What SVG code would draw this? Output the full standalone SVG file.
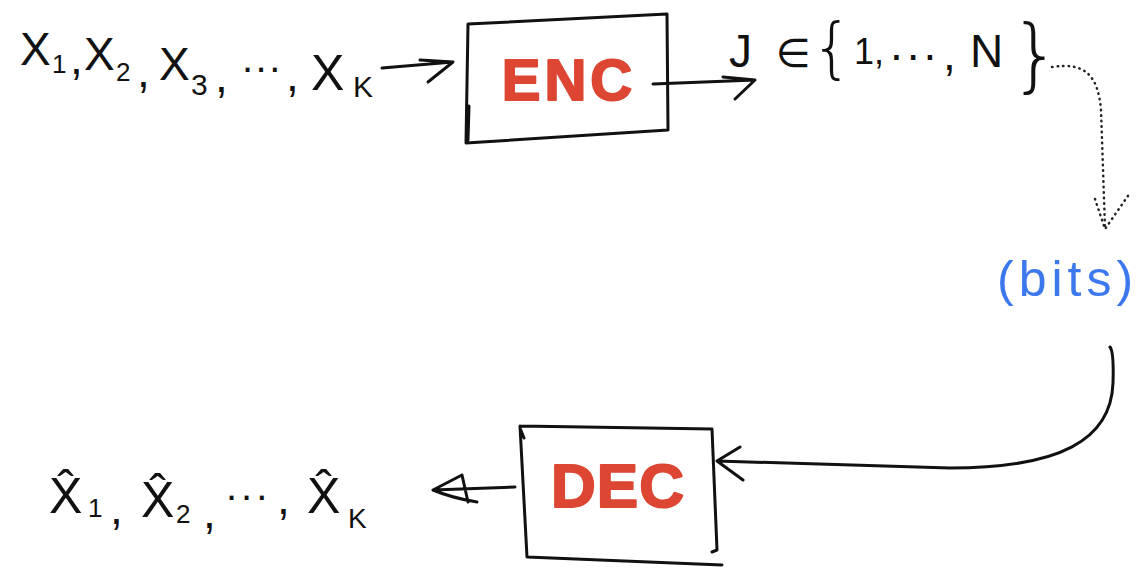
<svg xmlns="http://www.w3.org/2000/svg" width="1143" height="568" viewBox="0 0 1143 568">
<style>
.ink{fill:none;stroke:#111;stroke-width:3;stroke-linecap:round;stroke-linejoin:round}
.dot{fill:none;stroke:#222;stroke-width:2.5;stroke-linecap:round;stroke-dasharray:0.5 5}
.t{font-family:"Liberation Sans","DejaVu Sans",sans-serif;fill:#111}
.br{font-family:"DejaVu Sans","Liberation Sans",sans-serif;font-weight:200;fill:#111}
.red{font-family:"Liberation Sans",sans-serif;font-weight:bold;fill:#dc4632;stroke:#dc4632;stroke-width:2;stroke-linejoin:round}
.blue{font-family:"Liberation Sans",sans-serif;fill:#3b78ee}
</style>
<rect width="1143" height="568" fill="#fff"/>
<g id="input" class="t">
<text x="20" y="65" font-size="46">X</text><text x="52" y="73" font-size="26">1</text><text x="70" y="74" font-size="46">,</text>
<text x="84" y="70" font-size="46">X</text><text x="116" y="81" font-size="26">2</text><text x="137" y="87" font-size="46">,</text>
<text x="159" y="80" font-size="46">X</text><text x="191" y="95" font-size="30">3</text><text x="215" y="92" font-size="46">,</text>
<text x="242" y="72" font-size="40" letter-spacing="2.5">...</text><text x="286" y="91" font-size="46">,</text>
<text x="311" y="90" font-size="50">X</text><text x="353" y="97" font-size="30">K</text>
</g>
<g id="enc">
<path class="ink" d="M468,24 L667,14 L668,130 L466,143 Z M469,106 L468,140"/>
<text class="red" x="569" y="100" font-size="58" text-anchor="middle" letter-spacing="4">ENC</text>
</g>
<g id="index" class="t">
<text x="729" y="67" font-size="46">J</text>
<text x="776" y="67" font-size="40">∈</text>
<text class="br" x="811" y="70" font-size="66">{</text>
<text x="854" y="64" font-size="36">1,</text>
<text x="890" y="60" font-size="46" letter-spacing="4">...</text>
<text x="943" y="70" font-size="46">,</text>
<text x="970" y="67" font-size="46">N</text>
<text class="br" x="1010" y="82" font-size="80">}</text>
</g>
<g id="bits">
<text class="blue" x="997" y="296" font-size="50" letter-spacing="5">(bits)</text>
</g>
<g id="dec">
<path class="ink" d="M520,426 L712,429 L717,550 L712,552 M527,557 L722,565 M520,426 L527,557 M520,428 L524,438"/>
<text class="red" x="618" y="507" font-size="62" text-anchor="middle" letter-spacing="1">DEC</text>
</g>
<g id="output" class="t">
<text x="49" y="513" font-size="50">X&#x302;</text><text x="88" y="517" font-size="26">1</text><text x="110" y="524" font-size="46">,</text>
<text x="141" y="517" font-size="50">X&#x302;</text><text x="176" y="523" font-size="26">2</text><text x="203" y="528" font-size="46">,</text>
<text x="226" y="500" font-size="40" letter-spacing="4">...</text><text x="277" y="514" font-size="46">,</text>
<text x="307" y="513" font-size="50">X&#x302;</text><text x="348" y="528" font-size="28">K</text>
</g>
<g id="connectors">
<path class="ink" d="M382,68 L453,62 M420,60 L453,62 L428,82"/>
<path class="ink" d="M653,84 L755,80 M723,77 L755,80 L735,99"/>
<path class="dot" d="M1052,67 C1085,62 1098,75 1101,110 L1105,228"/>
<path class="dot" d="M1095,199 L1105,229 L1130,193"/>
<path class="ink" d="M1110,347 Q1114,352 1113,383 C1111,440 1060,468 950,468 L717,461 M740,447 L717,461 L743,480"/>
<path class="ink" d="M515,487 L433,490 M462,475 L433,490 Q452,498 477,502 M462,475 L468,502"/>
</g>
</svg>
